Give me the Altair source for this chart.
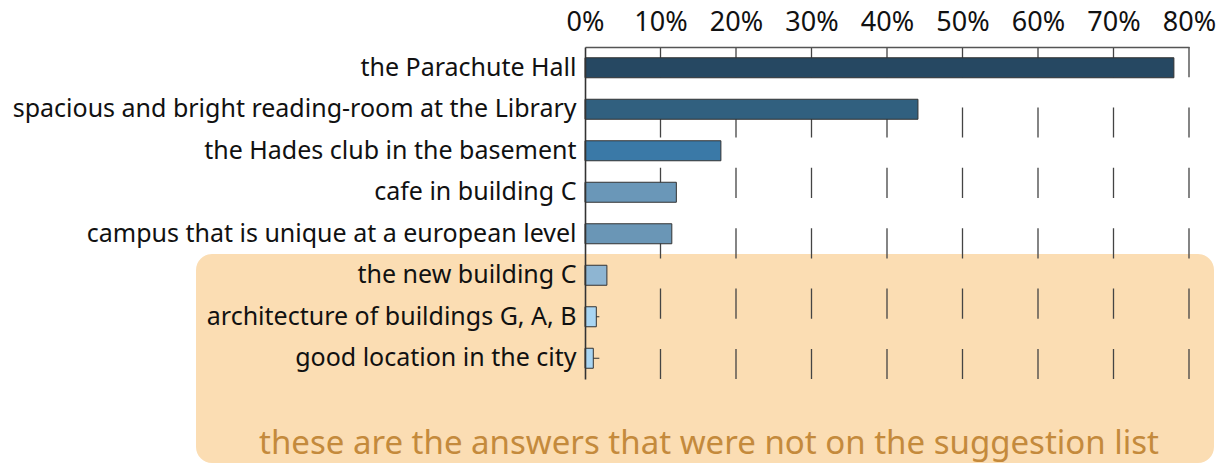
import altair as alt
import pandas as pd

categories = [
    "the Parachute Hall",
    "spacious and bright reading-room at the Library",
    "the Hades club in the basement",
    "cafe in building C",
    "campus that is unique at a european level",
    "the new building C",
    "architecture of buildings G, A, B",
    "good location in the city",
]
values = [0.780, 0.441, 0.180, 0.121, 0.115, 0.029, 0.015, 0.011]
colors = ["#264862", "#31607f", "#3a79a7", "#6a97b8", "#6a96b6", "#8eb5d2", "#a9d5f2", "#a9d5f2"]

whisker_cats = ["architecture of buildings G, A, B", "good location in the city"]
whisker_from = [0.015, 0.011]
whisker_to = [0.019, 0.019]

tick_values = [0, 0.1, 0.2, 0.3, 0.4, 0.5, 0.6, 0.7, 0.8]
grid_values = [0.1, 0.2, 0.3, 0.4, 0.5, 0.6, 0.7, 0.8]

note = "these are the answers that were not on the suggestion list"

df = pd.DataFrame({"cat": categories, "val": values})
wdf = pd.DataFrame({"cat": whisker_cats, "a": whisker_from, "b": whisker_to})
gdf = pd.DataFrame({"g": grid_values})
one = pd.DataFrame({"k": [0]})

W, H = 604, 332
FONT = "Noto Sans"

xscale = alt.Scale(domain=[0, 0.8], nice=False, zero=True)
yscale = alt.Scale(domain=categories, paddingInner=0, paddingOuter=0)

xaxis = alt.Axis(orient="top", values=tick_values, format=".0%", title=None,
                 grid=False, ticks=False, labelFontSize=27, labelFont=FONT,
                 labelColor="#111", domainColor="#555", domainWidth=1.3,
                 labelPadding=11, zindex=1, labelFlush=False)
yaxis = alt.Axis(title=None, ticks=False, grid=False, labelFontSize=25,
                 labelFont=FONT, labelColor="#111", labelLimit=1000,
                 labelPadding=9, domainColor="#333", domainWidth=1.6, zindex=1)

bg = alt.Chart(one).mark_rect(cornerRadius=16, color="#fbddb3").encode(
    x=alt.value(-389), x2=alt.value(629), y=alt.value(207), y2=alt.value(416)
)

grid = alt.Chart(gdf).mark_rule(color="#444", strokeWidth=1.3,
                                strokeDash=[30.2, 30.2]).encode(
    x=alt.X("g:Q", scale=xscale, axis=xaxis),
    y=alt.value(0), y2=alt.value(H)
)

bars = alt.Chart(df).mark_bar(size=20, stroke="#333", strokeWidth=1).encode(
    x=alt.X("val:Q", scale=xscale, axis=xaxis),
    y=alt.Y("cat:N", scale=yscale, axis=yaxis, sort=categories),
    color=alt.Color("cat:N", scale=alt.Scale(domain=categories, range=colors), legend=None),
)

whisk = alt.Chart(wdf).mark_rule(color="#333", strokeWidth=1).encode(
    x=alt.X("a:Q", scale=xscale, axis=xaxis),
    x2="b:Q",
    y=alt.Y("cat:N", scale=yscale, axis=yaxis, sort=categories),
)

txt = alt.Chart(one).mark_text(text=note, fontSize=33, font=FONT, color="#c48a3c",
                               align="center", baseline="alphabetic").encode(
    x=alt.value(124), y=alt.value(407)
)

chart = alt.layer(bg, grid, bars, whisk, txt).properties(
    width=W, height=H,
    autosize=alt.AutoSizeParams(type="none"),
    padding={"left": 585, "top": 47, "right": 38, "bottom": 87},
    background="white",
).configure_view(strokeWidth=0)

chart.save("out.html", embed_options={"renderer": "svg", "actions": False})
